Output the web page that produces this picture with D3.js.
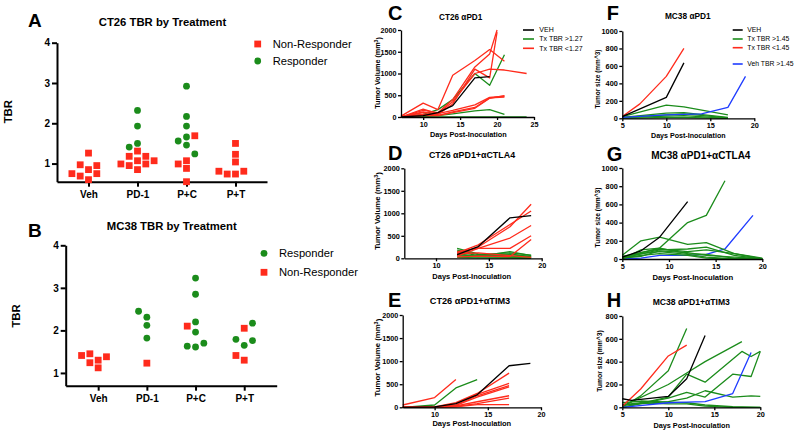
<!DOCTYPE html>
<html><head><meta charset="utf-8">
<script src="https://cdn.jsdelivr.net/npm/d3@7"></script>
<style>body{margin:0;background:#fff}svg{display:block}</style>
</head><body><svg id="chart" width="800" height="433"></svg>
<script>
// ---------- DATA ----------
const categories = ["Veh", "PD-1", "P+C", "P+T"];
const tbrTicks = [1, 2, 3, 4];
// Panel A (CT26) TBR values per category
const ct26NonResponder = [[1.26,0.95,0.97,0.85,0.75,0.75,0.69,0.60],[1.31,1.18,1.18,1.07,1.07,0.99,0.99,0.95,0.85],[1.69,0.99,1.07,0.88,0.55],[1.50,1.23,1.04,0.81,0.81,0.74,0.74]];
const ct26Responder = [[],[2.32,1.93,1.50,1.41],[2.92,2.17,1.93,1.56,1.66,1.46,1.24],[]];
// Panel B (MC38)
const mc38Responder = [[],[2.45,2.31,2.12,1.82],[3.23,2.85,2.20,1.96,1.70,1.61,1.63],[2.17,1.76,1.65,1.79]];
const mc38NonResponder = [[1.41,1.30,1.38,1.12,1.24,1.45],[1.23],[2.10],[2.05,1.41,1.30]];

// Panel C: CT26 aPD1 ([day, volume])
const cVeh = [[[7,0],[10,30],[12,100],[14,260],[17,900],[19,930]]];
const cHigh = [
 [[7,0],[10,60],[12,170],[14,400],[17,1000],[19,730],[21,1430]],
 [[7,0],[10,10],[12,30],[14,70],[17,140],[19,170],[21,60]],
 [[7,0],[10,0],[12,5],[14,5],[17,5],[19,5],[21,5],[24,0]]];
const cLow = [
 [[7,20],[10,320],[12,170],[14,960],[17,1300],[19,1550],[21,1280]],
 [[7,0],[10,150],[12,100],[14,400],[17,1150],[19,1450],[20,2000]],
 [[7,0],[10,100],[12,80],[14,350],[17,1000],[19,1100],[21,1080],[24,1000]],
 [[7,0],[10,60],[12,60],[14,300],[17,1100],[19,900],[20,1950]],
 [[7,0],[10,180],[12,80],[14,150],[17,280],[19,450],[21,480]],
 [[7,0],[10,120],[12,40],[14,120],[17,220],[19,440],[21,460]],
 [[7,0],[10,40],[12,30],[14,100],[17,200],[19,430],[21,490]]];
// Panel D: CT26 aPD1+aCTLA4
const dVeh = [[[12,80],[14,260],[17,900],[19,950]]];
const dHigh = [
 [[12,220],[14,100],[17,50],[19,20]],
 [[12,180],[14,80],[17,120],[19,70]],
 [[12,150],[14,60],[17,100],[19,30]],
 [[12,100],[14,40],[17,150],[19,60]],
 [[12,60],[14,30],[17,20],[19,10]],
 [[12,20],[14,10],[17,5],[19,0]],
 [[12,80],[14,50],[17,80],[19,40]]];
const dLow = [
 [[12,100],[14,250],[17,700],[19,1200]],
 [[12,120],[14,300],[17,750],[19,1050]],
 [[12,150],[14,220],[17,450],[19,730]],
 [[12,50],[14,220],[17,220],[19,500]],
 [[12,30],[14,50],[17,40],[19,420]],
 [[12,100],[14,120],[17,60],[19,20]]];
// Panel E: CT26 aPD1+aTIM3
const eVeh = [[[7,0],[10,10],[12,80],[14,270],[17,900],[19,950]]];
const eHigh = [[[7,0],[10,50],[12,420],[14,600]]];
const eLow = [
 [[7,50],[10,210],[12,600]],
 [[7,0],[10,10],[12,100],[14,300],[17,740]],
 [[7,0],[10,0],[12,80],[14,280],[17,520]],
 [[7,0],[10,0],[12,50],[14,250],[17,470]],
 [[7,0],[10,0],[12,40],[14,220],[17,440]],
 [[7,0],[10,0],[12,30],[14,120],[17,250]],
 [[7,0],[10,0],[12,20],[14,80],[17,200]],
 [[7,0],[10,0],[12,10],[14,60],[17,60]]];
// Panel F: MC38 aPD1
const fVeh = [[[5,20],[10,240],[12,635]]];
const fHigh = [
 [[5,20],[10,150],[12,130],[17,40]],
 [[5,10],[10,60],[12,65],[17,10]],
 [[5,10],[10,40],[12,50],[17,5]],
 [[5,5],[10,25],[12,30],[17,0]],
 [[5,0],[10,10],[12,10],[17,0]]];
const fLow = [[[5,20],[7,165],[10,480],[12,800]]];
const fVehHigh = [[[5,10],[10,40],[12,45],[14,50],[17,125],[19,480]]];
// Panel G: MC38 aPD1+aCTLA4
const gVeh = [[[5,20],[7,90],[9,240],[12,630]]];
const gHigh = [
 [[5,20],[9,120],[12,400],[14,480],[16,860]],
 [[5,40],[7,200],[9,240],[12,160],[14,180],[17,60],[20,10]],
 [[5,10],[9,100],[12,110],[14,130],[17,40],[20,0]],
 [[5,0],[7,100],[9,120],[12,60],[14,50],[17,10],[20,0]],
 [[5,20],[7,60],[9,80],[12,50],[14,20],[17,0],[20,0]],
 [[5,10],[7,40],[9,60],[12,40],[14,10],[17,0],[20,0]],
 [[5,30],[9,110],[12,80],[14,100],[17,60],[20,0]],
 [[5,10],[7,30],[9,90],[12,70],[14,40],[17,20],[20,5]]];
const gVehHigh = [[[5,0],[7,10],[9,40],[12,40],[14,50],[16,110],[19,480]]];
// Panel H: MC38 aPD1+aTIM3
const hVeh = [[[5,75],[6,60],[10,95],[12,250],[14,630]]];
const hHigh = [
 [[5,0],[7,100],[10,320],[12,690]],
 [[5,10],[10,200],[12,300],[14,400],[18,575]],
 [[5,0],[10,90],[12,290],[14,220],[18,490],[19,445],[20,490]],
 [[5,0],[10,80],[12,130],[14,90],[17,290],[19,270],[20,490]],
 [[5,20],[10,50],[12,80],[14,145],[17,90],[19,100],[20,95]],
 [[5,40],[7,55],[10,45],[12,40],[14,20],[17,5],[20,0]],
 [[5,20],[7,40],[10,30],[12,30],[14,10],[17,0],[20,0]]];
const hLow = [[[5,10],[7,160],[10,450],[12,545]]];
const hVehHigh = [[[5,0],[10,40],[12,45],[14,50],[17,120],[19,480]]];

const legendCT26 = ["VEH", "Tx TBR >1.27", "Tx TBR <1.27"];
const legendMC38 = ["VEH", "Tx TBR >1.45", "Tx TBR <1.45", "Veh TBR >1.45"];

// ---------- STYLE ----------
const RED = "#ff2b1c", GREEN = "#1b8c1b", BLUE = "#1f3cff", BLACK = "#000";
const FONT = '"Liberation Sans", Arial, Helvetica, sans-serif';
const svg = d3.select("#chart");

function txt(g, x, y, s, size, weight, anchor) {
  return g.append("text").attr("x", x).attr("y", y).text(s)
    .attr("font-family", FONT).attr("font-size", size)
    .attr("font-weight", weight || "normal").attr("text-anchor", anchor || "start").attr("fill", "#000");
}

function symbol(g, type, cx, cy, color) {
  if (type === "square") {
    g.append("rect").attr("x", cx - 3.4).attr("y", cy - 3.4).attr("width", 6.8).attr("height", 6.8).attr("fill", color);
  } else {
    g.append("circle").attr("cx", cx).attr("cy", cy).attr("r", 3.4).attr("fill", color);
  }
}

// simple greedy beeswarm (column scatter)
function swarm(pts, y, size, step) {
  const placed = [];
  pts.sort((a, b) => a.v - b.v);
  let pref = -1;
  pts.forEach(p => {
    const py = y(p.v);
    let off = 0;
    for (let k = 0; k < 60; k++) {
      const mag = Math.ceil(k / 2) * step;
      const cand = k === 0 ? 0 : (k % 2 === 1 ? pref * mag : -pref * mag);
      const hit = placed.some(q => Math.abs(q.dx - cand) < size - 0.01 && Math.abs(q.py - py) < size);
      if (!hit) { off = cand; break; }
    }
    if (off !== 0) pref = off < 0 ? 1 : -1;
    placed.push({ dx: off, py, p });
  });
  return placed;
}

function scatterPanel(o) {
  const g = svg.append("g");
  const x = d3.scalePoint().domain(categories).range(o.xRange).padding(o.pad);
  const y = d3.scaleLinear().domain(o.yDomain).range(o.yRange);
  const ya = g.append("g").attr("transform", `translate(${o.xRange[0]},0)`)
    .call(d3.axisLeft(y).tickValues(tbrTicks).tickFormat(d3.format("d")).tickSize(5).tickSizeOuter(0).tickPadding(2));
  const xa = g.append("g").attr("transform", `translate(0,${o.yRange[0]})`)
    .call(d3.axisBottom(x).tickSize(5).tickSizeOuter(0).tickPadding(4));
  [ya, xa].forEach(a => {
    a.select(".domain").attr("stroke-width", 2).attr("stroke", "#000");
    a.selectAll(".tick line").attr("stroke-width", 2).attr("stroke", "#000");
    a.selectAll("text").attr("font-family", FONT).attr("font-weight", "bold").attr("font-size", 10).attr("fill", "#000");
  });
  categories.forEach((c, ci) => {
    const pts = [];
    o.series.forEach(s => s.values[ci].forEach(v => pts.push({ v, s })));
    swarm(pts, y, 7.6, 4.15).forEach(q => symbol(g, q.p.s.type, x(c) + q.dx, q.py, q.p.s.color));
  });
  txt(g, o.letter[0], o.letter[1], o.letter[2], 19, "bold");
  txt(g, o.title[0], o.title[1], o.title[2], 11.3, "bold", "middle");
  g.append("text").attr("transform", `translate(${o.ylab[0]},${o.ylab[1]}) rotate(-90)`)
    .attr("text-anchor", "middle").attr("font-family", FONT).attr("font-weight", "bold").attr("font-size", 11.3).text("TBR");
  o.series.forEach((s, i) => {
    const ly = o.legend[1] + i * o.legend[2];
    symbol(g, s.type, o.legend[0], ly, s.color);
    txt(g, o.legend[0] + 15, ly, s.name, 11.2).attr("dy", "0.35em");
  });
}

scatterPanel({
  xRange: [57, 267], pad: 0.643, yDomain: [0.55, 4], yRange: [181.7, 42.7],
  series: [{ name: "Non-Responder", values: ct26NonResponder, type: "square", color: RED },
           { name: "Responder", values: ct26Responder, type: "circle", color: GREEN }],
  letter: [28, 26.5, "A"], title: [162.5, 25.5, "CT26 TBR by Treatment"], ylab: [11.5, 111.7],
  legend: [257.7, 44, 17]
});
scatterPanel({
  xRange: [65.7, 276.7], pad: 0.667, yDomain: [0.7, 4], yRange: [385.7, 245.3],
  series: [{ name: "Responder", values: mc38Responder, type: "circle", color: GREEN },
           { name: "Non-Responder", values: mc38NonResponder, type: "square", color: RED }],
  letter: [28, 236.5, "B"], title: [171.8, 230, "MC38 TBR by Treatment"], ylab: [20, 316],
  legend: [264, 253.3, 19]
});

function linePanel(o) {
  const g = svg.append("g");
  const x = d3.scaleLinear().domain(o.xDomain).range(o.xRange);
  const y = d3.scaleLinear().domain(o.yDomain).range(o.yRange);
  const line = d3.line().x(d => x(d[0])).y(d => y(d[1]));
  o.groups.forEach(grp => grp.data.forEach(s => {
    g.append("path").attr("d", line(s)).attr("fill", "none").attr("stroke", grp.color)
      .attr("stroke-width", 1.3).attr("stroke-linejoin", "round");
  }));
  const ya = g.append("g").attr("transform", `translate(${o.xRange[0]},0)`)
    .call(d3.axisLeft(y).tickValues(o.yTicks).tickFormat(d3.format("d")).tickSize(3).tickSizeOuter(0).tickPadding(1.5));
  const xa = g.append("g").attr("transform", `translate(0,${o.yRange[0]})`)
    .call(d3.axisBottom(x).tickValues(o.xTicks).tickFormat(d3.format("d")).tickSize(3).tickSizeOuter(0).tickPadding(2));
  [ya, xa].forEach(a => {
    a.select(".domain").attr("stroke-width", 1.3).attr("stroke", "#000");
    a.selectAll(".tick line").attr("stroke-width", 1.3).attr("stroke", "#000");
    a.selectAll("text").attr("font-family", FONT).attr("font-weight", "bold").attr("font-size", o.tickSize).attr("fill", "#000");
  });
  txt(g, o.letter[0], o.letter[1], o.letter[2], 20, "bold");
  txt(g, o.title[0], o.title[1], o.title[2], o.title[3], "bold", "middle");
  txt(g, o.xlab[0], o.xlab[1], "Days Post-Inoculation", o.xlab[2], "bold", "middle");
  const yl = g.append("text").attr("transform", `translate(${o.ylab[0]},${o.ylab[1]}) rotate(-90)`)
    .attr("text-anchor", "middle").attr("font-family", FONT).attr("font-weight", "bold").attr("font-size", o.ylab[2]);
  if (o.superscript) {
    yl.append("tspan").text("Tumor Volume (mm");
    yl.append("tspan").text("3").attr("font-size", o.ylab[2] * 0.7).attr("dy", "-0.45em");
    yl.append("tspan").text(")").attr("dy", "0.45em");
  } else {
    yl.text("Tumor size (mm^3)");
  }
  if (o.legend) {
    const L = o.legend;
    L.labels.forEach((lab, i) => {
      const ly = L.ys[i];
      g.append("line").attr("x1", L.x0).attr("x2", L.x1).attr("y1", ly).attr("y2", ly)
        .attr("stroke", L.colors[i]).attr("stroke-width", 1.6);
      txt(g, L.tx, ly, lab, L.size).attr("dy", "0.35em");
    });
  }
}

linePanel({
  xDomain: [7, 25], xRange: [401, 534], yDomain: [0, 2000], yRange: [117, 30],
  xTicks: [10, 15, 20, 25], yTicks: [0, 500, 1000, 1500, 2000], tickSize: 7.2,
  groups: [{ data: cHigh, color: GREEN }, { data: cLow, color: RED }, { data: cVeh, color: BLACK }],
  letter: [388, 20, "C"], title: [460.7, 19.5, "CT26 \u03b1PD1", 8.2], xlab: [468.3, 137, 7.3], ylab: [380, 73, 7.2], superscript: true,
  legend: { labels: legendCT26, colors: [BLACK, GREEN, RED], ys: [30, 39, 48.3], x0: 523, x1: 534, tx: 539.3, size: 7 }
});
linePanel({
  xDomain: [7, 20], xRange: [404.3, 541.7], yDomain: [0, 2000], yRange: [258.3, 168.3],
  xTicks: [10, 15, 20], yTicks: [0, 500, 1000, 1500, 2000], tickSize: 7.3,
  groups: [{ data: dHigh, color: GREEN }, { data: dLow, color: RED }, { data: dVeh, color: BLACK }],
  letter: [388, 160, "D"], title: [472, 158, "CT26 \u03b1PD1+\u03b1CTLA4", 8.9], xlab: [471.7, 278.8, 7.5], ylab: [380, 211, 7.8], superscript: true
});
linePanel({
  xDomain: [7, 20], xRange: [402.7, 541], yDomain: [0, 2000], yRange: [407.3, 315],
  xTicks: [10, 15, 20], yTicks: [0, 500, 1000, 1500, 2000], tickSize: 7.2,
  groups: [{ data: eHigh, color: GREEN }, { data: eLow, color: RED }, { data: eVeh, color: BLACK }],
  letter: [388, 306.5, "E"], title: [470, 304, "CT26 \u03b1PD1+\u03b1TIM3", 9.2], xlab: [471.8, 425.5, 7.5], ylab: [380, 357.6, 7.8], superscript: true
});
linePanel({
  xDomain: [5, 20], xRange: [622.3, 754.3], yDomain: [0, 1000], yRange: [118.3, 31],
  xTicks: [5, 10, 15, 20], yTicks: [0, 200, 400, 600, 800, 1000], tickSize: 7.3,
  groups: [{ data: fHigh, color: GREEN }, { data: fVehHigh, color: BLUE }, { data: fLow, color: RED }, { data: fVeh, color: BLACK }],
  letter: [606.7, 20, "F"], title: [687.8, 19, "MC38 \u03b1PD1", 8.3], xlab: [688.3, 138, 7.1], ylab: [600, 79, 6.5], superscript: false,
  legend: { labels: legendMC38, colors: [BLACK, GREEN, RED, BLUE], ys: [30, 39, 47.7, 64], x0: 732.7, x1: 742.7, tx: 747.3, size: 6.8 }
});
linePanel({
  xDomain: [5, 20], xRange: [622.3, 762.3], yDomain: [0, 1000], yRange: [259, 168],
  xTicks: [5, 10, 15, 20], yTicks: [0, 200, 400, 600, 800, 1000], tickSize: 7.3,
  groups: [{ data: gVehHigh, color: BLUE }, { data: gHigh, color: GREEN }, { data: gVeh, color: BLACK }],
  letter: [606.7, 161, "G"], title: [700.8, 159, "MC38 \u03b1PD1+\u03b1CTLA4", 10], xlab: [692.8, 279.5, 7.7], ylab: [600, 217.5, 6.6], superscript: false
});
linePanel({
  xDomain: [5, 20], xRange: [622.3, 760.3], yDomain: [0, 800], yRange: [407.3, 316],
  xTicks: [5, 10, 15, 20], yTicks: [0, 200, 400, 600, 800], tickSize: 7.3,
  groups: [{ data: hHigh, color: GREEN }, { data: hVehHigh, color: BLUE }, { data: hLow, color: RED }, { data: hVeh, color: BLACK }],
  letter: [606.7, 306.5, "H"], title: [691.3, 304.5, "MC38 \u03b1PD1+\u03b1TIM3", 8.6], xlab: [691.7, 428, 7.3], ylab: [602, 361, 6.8], superscript: false
});
</script>
</body></html>
